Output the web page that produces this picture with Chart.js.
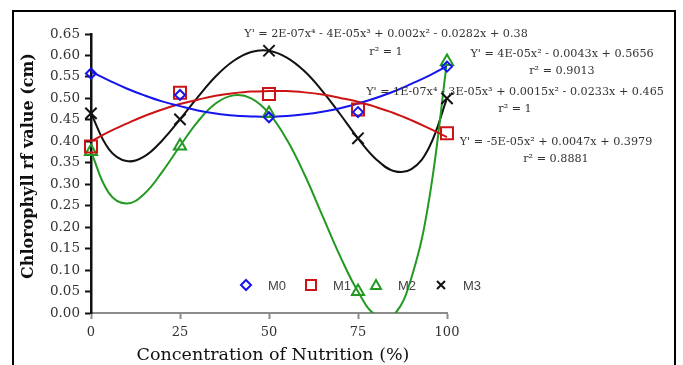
<!DOCTYPE html>
<html>
<head>
<meta charset="utf-8">
<script src="https://cdn.jsdelivr.net/npm/chart.js@4.4.1/dist/chart.umd.min.js"></script>
<style>
  html, body { margin: 0; padding: 0; background: #fff; overflow: hidden; }
  #frame { position: absolute; left: 12px; top: 10px; width: 660px; height: 420px; border: 2px solid #000; }
  #myChart { position: absolute; left: 0; top: 0; }
</style>
</head>
<body>
<div id="frame"></div>
<canvas id="myChart" width="683" height="365"></canvas>
<script>
// measured points
const nutrition = [0, 25, 50, 75, 100];
const m0 = [0.558, 0.508, 0.456, 0.468, 0.574];
const m1 = [0.388, 0.513, 0.510, 0.474, 0.419];
const m2 = [0.376, 0.389, 0.465, 0.050, 0.586];
const m3 = [0.465, 0.451, 0.611, 0.407, 0.500];

// trend curves every 5 %
const trendX = [0, 5, 10, 15, 20, 25, 30, 35, 40, 45, 50, 55, 60, 65, 70, 75, 80, 85, 90, 95, 100];
const m0Trend = [0.562, 0.542, 0.523, 0.507, 0.493, 0.482, 0.472, 0.465, 0.460, 0.458, 0.457, 0.459, 0.463, 0.469, 0.477, 0.488, 0.501, 0.516, 0.534, 0.553, 0.575];
const m1Trend = [0.400, 0.422, 0.441, 0.459, 0.474, 0.487, 0.497, 0.506, 0.512, 0.516, 0.517, 0.517, 0.514, 0.509, 0.501, 0.492, 0.480, 0.466, 0.449, 0.430, 0.410];
const m2Trend = [0.376, 0.280, 0.255, 0.278, 0.329, 0.389, 0.446, 0.488, 0.507, 0.500, 0.465, 0.404, 0.322, 0.227, 0.132, 0.050, -0.005, -0.005, 0.082, 0.266, 0.586];
const m3Trend = [0.465, 0.382, 0.354, 0.365, 0.402, 0.451, 0.503, 0.551, 0.587, 0.608, 0.611, 0.595, 0.563, 0.517, 0.463, 0.407, 0.359, 0.331, 0.335, 0.386, 0.500];

const seriesNames = ['M0', 'M1', 'M2', 'M3'];
const yTitle = 'Chlorophyll rf value (cm)';
const xTitle = 'Concentration of Nutrition (%)';
const equations = [
  ['Y\' = 2E-07x\u2074 - 4E-05x\u00b3 + 0.002x\u00b2 - 0.0282x + 0.38', 'r\u00b2 = 1'],
  ['Y\' = 4E-05x\u00b2 - 0.0043x + 0.5656', 'r\u00b2 = 0.9013'],
  ['Y\' = 1E-07x\u2074 - 3E-05x\u00b3 + 0.0015x\u00b2 - 0.0233x + 0.465', 'r\u00b2 = 1'],
  ['Y\' = -5E-05x\u00b2 + 0.0047x + 0.3979', 'r\u00b2 = 0.8881']
];

const BLUE = '#1414ee', RED = '#cc1414', GREEN = '#229a22', BLACK = '#111111';

function pts(xs, ys) {
  return xs.map((x, i) => ({x: x, y: ys[i]}));
}

function markerSet(label, ys, color, style, radius) {
  return {
    label: label, data: pts(nutrition, ys), showLine: false, clip: false,
    pointStyle: style, pointRadius: radius, pointBorderWidth: 2,
    borderColor: color, backgroundColor: 'rgba(0,0,0,0)'
  };
}

function trendSet(ys, color) {
  return {
    label: 'trend', data: pts(trendX, ys), pointRadius: 0,
    borderColor: color, borderWidth: 2, tension: 0.4, fill: false
  };
}

// text and legend drawn on top of the chart
const overlay = {
  id: 'overlay',
  afterDraw(chart) {
    let ctx = chart.ctx;
    ctx.save();
    ctx.fillStyle = '#111';
    ctx.textAlign = 'center';
    ctx.textBaseline = 'middle';
    ctx.font = 'bold 16px "DejaVu Serif"';
    ctx.translate(29, 166);
    ctx.rotate(-Math.PI / 2);
    ctx.fillText(yTitle, 0, 0);
    ctx.restore();

    ctx.save();
    ctx.fillStyle = '#111';
    ctx.textAlign = 'center';
    ctx.textBaseline = 'alphabetic';
    ctx.font = '17.5px "DejaVu Serif"';
    ctx.fillText(xTitle, 273, 360);

    // equations
    const eqPos = [[386, 34, 52], [562, 54, 71], [515, 92, 109], [556, 142, 159]];
    ctx.font = '11.2px "DejaVu Serif"';
    ctx.fillStyle = '#333';
    ctx.textBaseline = 'middle';
    equations.forEach((eq, i) => {
      ctx.fillText(eq[0], eqPos[i][0], eqPos[i][1]);
      ctx.fillText(eq[1], eqPos[i][0], eqPos[i][2]);
    });

    // legend
    const colors = [BLUE, RED, GREEN, BLACK];
    const ly = 285;
    ctx.lineWidth = 2;
    seriesNames.forEach((name, i) => {
      let mx = 246 + i * 65;
      ctx.strokeStyle = colors[i];
      ctx.beginPath();
      if (i === 0) {
        ctx.moveTo(mx - 5, ly); ctx.lineTo(mx, ly - 5); ctx.lineTo(mx + 5, ly); ctx.lineTo(mx, ly + 5); ctx.closePath();
      } else if (i === 1) {
        ctx.rect(mx - 5, ly - 5, 10, 10);
      } else if (i === 2) {
        ctx.moveTo(mx, ly - 5); ctx.lineTo(mx + 5, ly + 4); ctx.lineTo(mx - 5, ly + 4); ctx.closePath();
      } else {
        ctx.moveTo(mx - 4, ly - 4); ctx.lineTo(mx + 4, ly + 4);
        ctx.moveTo(mx + 4, ly - 4); ctx.lineTo(mx - 4, ly + 4);
      }
      ctx.stroke();
      ctx.fillStyle = '#444';
      ctx.textAlign = 'left';
      ctx.font = '13px "Liberation Sans"';
      ctx.fillText(name, mx + 22, ly + 1);
    });
    ctx.restore();
  }
};

let ctx = document.getElementById('myChart');
let myChart = new Chart(ctx, {
  type: 'line',
  data: {
    datasets: [
      markerSet('M0', m0, BLUE, 'rectRot', 5),
      markerSet('M1', m1, RED, 'rect', 8.5),
      markerSet('M2', m2, GREEN, 'triangle', 7),
      markerSet('M3', m3, BLACK, 'crossRot', 8),
      trendSet(m0Trend, BLUE),
      trendSet(m1Trend, RED),
      trendSet(m2Trend, GREEN),
      trendSet(m3Trend, BLACK)
    ]
  },
  options: {
    responsive: false,
    animation: false,
    devicePixelRatio: 1,
    layout: { padding: { left: 0, right: 236, top: 34, bottom: 0 } },
    plugins: { legend: { display: false }, tooltip: { enabled: false } },
    scales: {
      x: {
        type: 'linear', min: 0, max: 100,
        afterFit: s => { s.height = 52; },
        grid: { drawOnChartArea: false, drawTicks: true, tickLength: 6, tickWidth: 2, color: '#8c8c8c' },
        border: { display: true, color: '#8c8c8c', width: 2 },
        ticks: { stepSize: 25, padding: 6, color: '#333', font: { family: 'DejaVu Serif', size: 13 } }
      },
      y: {
        min: 0, max: 0.65,
        afterFit: s => { s.width = 91; },
        grid: { drawOnChartArea: false, drawTicks: true, tickLength: 6, tickWidth: 2, color: '#111' },
        border: { display: true, color: '#111', width: 2.5 },
        ticks: {
          stepSize: 0.05, padding: 5, color: '#333', font: { family: 'DejaVu Serif', size: 13.5 },
          callback: v => v.toFixed(2)
        }
      }
    }
  },
  plugins: [overlay]
});
</script>
</body>
</html>
